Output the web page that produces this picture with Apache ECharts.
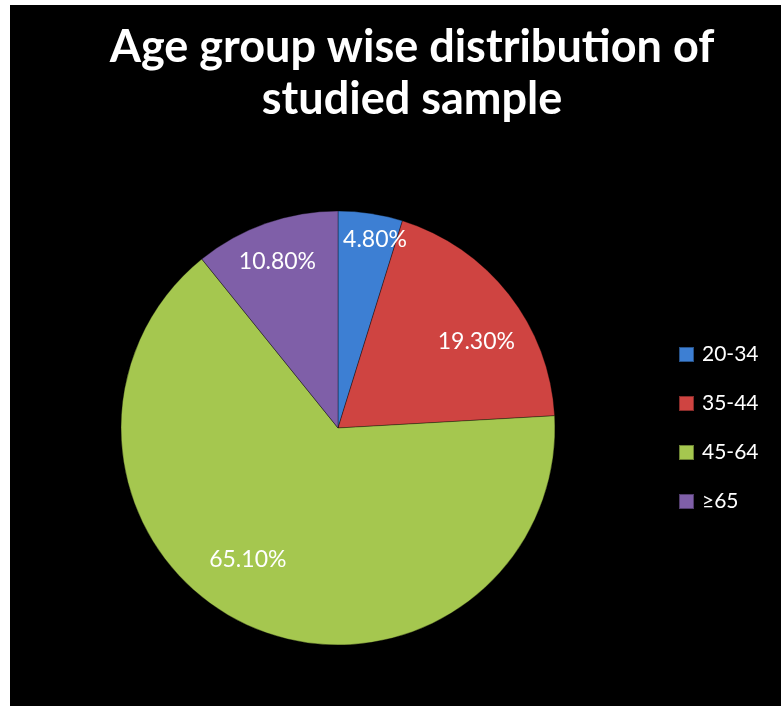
<!DOCTYPE html>
<html>
<head>
<meta charset="utf-8">
<script src="https://cdn.jsdelivr.net/npm/echarts@6/dist/echarts.min.js"></script>
<style>
  html, body { margin: 0; padding: 0; background: #ffffff; }
  #chart {
    position: absolute;
    left: 10px;
    top: 5px;
    width: 771px;
    height: 701px;
    background: #000000;
  }
</style>
</head>
<body>
<div id="chart"></div>
<script>
// age groups and their share of the sample (%)
const ageGroups = ['20-34', '35-44', '45-64', '≥65'];
const shares = [4.8, 19.3, 65.1, 10.8];
const sliceColors = ['#3d7fd3', '#cf4441', '#a5c74f', '#7f5fa8'];

// small nudges so labels sit where the original put them
const labelNudges = [[11, -17], [2, 20], [-20, -27], [-3, -3]];

const chart = echarts.init(document.getElementById('chart'));

const pieData = ageGroups.map((name, i) => ({
  name: name,
  value: shares[i],
  itemStyle: { color: sliceColors[i] }
}));

const labelData = ageGroups.map((name, i) => ({
  name: name,
  value: shares[i],
  label: { offset: labelNudges[i] }
}));

const option = {
  backgroundColor: '#000000',
  color: sliceColors,
  title: {
    text: 'Age group wise distribution of\nstudied sample',
    left: 397,
    top: 11,
    textAlign: 'center',
    textStyle: {
      color: '#ffffff',
      fontFamily: 'Lato',
      fontWeight: 'bold',
      fontSize: 45,
      lineHeight: 52
    }
  },
  legend: {
    orient: 'vertical',
    left: 663,
    top: 334,
    itemWidth: 15,
    itemHeight: 15,
    itemGap: 28,
    icon: 'rect',
    data: ageGroups,
    textStyle: {
      color: '#ffffff',
      fontFamily: 'Lato',
      fontSize: 21,
      padding: [0, 0, 0, 3]
    }
  },
  series: [
    {
      type: 'pie',
      center: [328, 423],
      radius: 217,
      startAngle: 90,
      clockwise: true,
      silent: true,
      label: { show: false },
      labelLine: { show: false },
      itemStyle: {
        borderColor: 'rgba(0,0,0,0.35)',
        borderWidth: 1
      },
      data: pieData
    },
    {
      // transparent twin ring used only to place the percentage labels
      type: 'pie',
      center: [328, 423],
      radius: [120, 220],
      startAngle: 90,
      clockwise: true,
      silent: true,
      legendHoverLink: false,
      itemStyle: { color: 'transparent', borderWidth: 0 },
      label: {
        show: true,
        position: 'inside',
        color: '#ffffff',
        fontFamily: 'Lato',
        fontSize: 23,
        formatter: p => p.value.toFixed(2) + '%'
      },
      labelLine: { show: false },
      data: labelData
    }
  ]
};

chart.setOption(option);
</script>
</body>
</html>
